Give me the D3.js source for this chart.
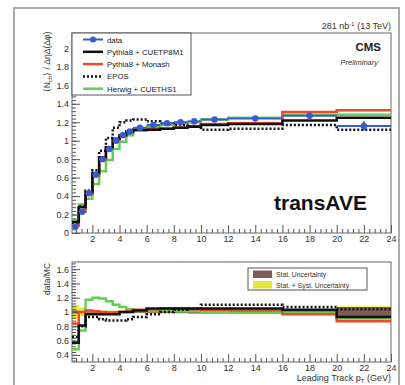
<!DOCTYPE html>
<html>
<head>
<meta charset="utf-8">
<script src="https://cdn.jsdelivr.net/npm/d3@7"></script>
<style>
  html, body { margin: 0; padding: 0; background: #fff; }
  svg { display: block; font-family: "Liberation Sans", Arial, Helvetica, sans-serif; }
</style>
</head>
<body>
<svg id="chart" width="405" height="385"></svg>
<script>
// Leading-track pT bin edges (GeV)
const binEdges = [0.5, 1, 1.5, 2, 2.5, 3, 3.5, 4, 4.5, 5, 6, 7, 8, 9, 10, 12, 16, 20, 24];

// Transverse-average charged-particle density
const dataValues   = [0.07, 0.23, 0.43, 0.63, 0.80, 0.91, 1.00, 1.06, 1.10, 1.14, 1.17, 1.19, 1.20, 1.21, 1.23, 1.24, 1.27, 1.16];
const dataErrors   = [0.005, 0.005, 0.005, 0.005, 0.005, 0.005, 0.005, 0.005, 0.005, 0.005, 0.006, 0.008, 0.01, 0.012, 0.012, 0.015, 0.02, 0.05];
const cuetp8m1     = [0.12, 0.28, 0.44, 0.65, 0.82, 0.93, 1.02, 1.06, 1.10, 1.12, 1.12, 1.13, 1.14, 1.15, 1.17, 1.18, 1.22, 1.25];
const monash       = [0.08, 0.23, 0.42, 0.62, 0.80, 0.92, 1.01, 1.06, 1.09, 1.11, 1.13, 1.13, 1.14, 1.16, 1.18, 1.19, 1.31, 1.33];
const epos         = [0.11, 0.29, 0.46, 0.68, 0.89, 1.03, 1.14, 1.20, 1.22, 1.23, 1.21, 1.19, 1.17, 1.15, 1.12, 1.13, 1.17, 1.12];
const herwig       = [0.14, 0.31, 0.37, 0.53, 0.67, 0.79, 0.91, 0.99, 1.06, 1.12, 1.15, 1.17, 1.19, 1.20, 1.23, 1.25, 1.28, 1.28];

// data/MC ratios
const ratioCuetp8m1 = [0.57, 0.81, 0.97, 0.97, 0.97, 0.97, 0.97, 1.00, 1.00, 1.02, 1.05, 1.05, 1.05, 1.05, 1.05, 1.05, 1.03, 0.93];
const ratioMonash   = [0.84, 1.00, 1.02, 1.01, 1.00, 0.99, 0.99, 1.00, 1.01, 1.03, 1.04, 1.05, 1.05, 1.04, 1.03, 1.04, 0.97, 0.87];
const ratioEpos     = [0.65, 0.80, 0.93, 0.93, 0.90, 0.88, 0.88, 0.88, 0.90, 0.93, 0.97, 1.00, 1.03, 1.05, 1.10, 1.10, 1.07, 1.04];
const ratioHerwig   = [0.48, 0.74, 1.17, 1.20, 1.19, 1.15, 1.10, 1.07, 1.04, 1.02, 1.02, 1.02, 1.01, 1.01, 1.00, 0.99, 0.99, 0.91];
const statUnc       = [0.02, 0.01, 0.01, 0.01, 0.01, 0.01, 0.01, 0.01, 0.01, 0.01, 0.01, 0.012, 0.015, 0.02, 0.02, 0.025, 0.03, 0.07];
const totalUnc      = [0.10, 0.06, 0.04, 0.025, 0.02, 0.02, 0.02, 0.02, 0.02, 0.02, 0.02, 0.02, 0.022, 0.025, 0.025, 0.03, 0.035, 0.08];

// Axis ticks
const xTicks      = [2, 4, 6, 8, 10, 12, 14, 16, 18, 20, 22, 24];
const yTicksTop   = [0, 0.2, 0.4, 0.6, 0.8, 1, 1.2, 1.4, 1.6, 1.8, 2];
const yTicksRatio = [0.4, 0.6, 0.8, 1, 1.2, 1.4, 1.6];

const legendTop = [
  { label: "data", color: "#3a5bd0", dash: null, marker: true },
  { label: "Pythia8 + CUETP8M1", color: "#111", dash: null },
  { label: "Pythia8 + Monash", color: "#ee4a2a", dash: null },
  { label: "EPOS", color: "#111", dash: "2,2" },
  { label: "Herwig + CUETHS1", color: "#66cc55", dash: null }
];

const svg = d3.select("#chart");
const fmt = d => String(+d.toFixed(1));

// outer canvas border
svg.append("rect").attr("x", 14).attr("y", 8).attr("width", 385).attr("height", 392)
  .attr("fill", "none").attr("stroke", "#aaa").attr("stroke-width", 2);

const x = d3.scaleLinear().domain([0.5, 24]).range([72, 391]);
const yTop = d3.scaleLinear().domain([0, 2.167]).range([233, 33]);
const yRat = d3.scaleLinear().domain([0.3, 1.7]).range([362, 262]);

function binPoints(values) {
  const pts = [];
  values.forEach((v, i) => { pts.push([binEdges[i], v]); pts.push([binEdges[i + 1], v]); });
  return pts;
}

function drawAxes(g, yScale, yTicks, minorStep, showXLabels) {
  const [y0, y1] = yScale.range();
  const ax = d3.axisBottom(x).tickValues(xTicks).tickSize(-8).tickPadding(3).tickFormat(showXLabels ? d => d : "");
  const axMinor = d3.axisBottom(x).tickValues(d3.range(0.8, 24.01, 0.4).filter(v => Math.abs(v / 2 - Math.round(v / 2)) > 0.01)).tickSize(-4).tickFormat("");
  const gx = g.append("g").attr("transform", `translate(0,${y0})`).call(ax);
  const gxm = g.append("g").attr("transform", `translate(0,${y0})`).call(axMinor);
  const ay = d3.axisLeft(yScale).tickValues(yTicks).tickSize(-8).tickPadding(3).tickFormat(fmt);
  const [d0, d1] = yScale.domain();
  const minors = d3.range(Math.ceil(d0 / minorStep) * minorStep, d1 + 1e-9, minorStep);
  const ayMinor = d3.axisLeft(yScale).tickValues(minors).tickSize(-4).tickFormat("");
  const gy = g.append("g").attr("transform", `translate(72,0)`).call(ay);
  const gym = g.append("g").attr("transform", `translate(72,0)`).call(ayMinor);
  [gx, gxm, gy, gym].forEach(s => {
    s.select(".domain").remove();
    s.selectAll("line").attr("stroke", "#555");
    s.selectAll("text").attr("font-size", 9).attr("fill", "#333").attr("font-family", "Liberation Sans, Arial, sans-serif");
  });
  g.append("rect").attr("x", 72).attr("y", y1).attr("width", 391 - 72).attr("height", y0 - y1)
    .attr("fill", "none").attr("stroke", "#666").attr("stroke-width", 1);
}

// ---------- upper pad ----------
const upper = svg.append("g");
const lineTop = d3.line().x(d => x(d[0])).y(d => yTop(d[1]));

drawAxes(upper, yTop, yTicksTop, 0.04, true);

const mcTop = [
  { v: herwig, color: "#66cc55", dash: null },
  { v: monash, color: "#ee4a2a", dash: null },
  { v: cuetp8m1, color: "#111", dash: null },
  { v: epos, color: "#111", dash: "2,2" }
];
mcTop.forEach(s => {
  upper.append("path").attr("d", lineTop(binPoints(s.v)))
    .attr("fill", "none").attr("stroke", s.color).attr("stroke-width", 2.5)
    .attr("stroke-dasharray", s.dash);
});

// data: markers with horizontal bin-width bars and vertical errors
const dataG = upper.append("g");
dataValues.forEach((v, i) => {
  const xc = (binEdges[i] + binEdges[i + 1]) / 2;
  dataG.append("line").attr("x1", x(binEdges[i])).attr("x2", x(binEdges[i + 1]))
    .attr("y1", yTop(v)).attr("y2", yTop(v)).attr("stroke", "#3a5bd0").attr("stroke-width", 2);
  dataG.append("line").attr("x1", x(xc)).attr("x2", x(xc))
    .attr("y1", yTop(v - dataErrors[i])).attr("y2", yTop(v + dataErrors[i])).attr("stroke", "#3a5bd0").attr("stroke-width", 2);
  dataG.append("circle").attr("cx", x(xc)).attr("cy", yTop(v)).attr("r", 3.2).attr("fill", "#3a5bd0");
});

// legend (upper)
const lg = upper.append("g");
lg.append("rect").attr("x", 72).attr("y", 33).attr("width", 119).attr("height", 62)
  .attr("fill", "#fff").attr("stroke", "#555").attr("stroke-width", 1);
legendTop.forEach((e, i) => {
  const yy = 39.5 + i * 12.3;
  lg.append("line").attr("x1", 83).attr("x2", 103).attr("y1", yy).attr("y2", yy)
    .attr("stroke", e.color).attr("stroke-width", e.marker ? 2 : 2.5).attr("stroke-dasharray", e.dash);
  if (e.marker) lg.append("circle").attr("cx", 93).attr("cy", yy).attr("r", 3).attr("fill", e.color);
  lg.append("text").attr("x", 107).attr("y", yy + 3).attr("font-size", 7.8).attr("fill", "#222").text(e.label);
});

// y title (upper)
const yt = upper.append("text").attr("transform", "translate(50,62) rotate(-90)")
  .attr("text-anchor", "middle").attr("font-size", 8.5).attr("fill", "#333");
yt.append("tspan").text("⟨N");
yt.append("tspan").attr("font-size", 6).attr("dy", 2).text("ch");
yt.append("tspan").attr("dy", -2).text("⟩ / ΔηΔ(Δφ)");

// labels
svg.append("text").attr("x", 391).attr("y", 29).attr("text-anchor", "end").attr("font-size", 9).attr("fill", "#333")
  .html('281 nb<tspan dy="-3" font-size="6">-1</tspan><tspan dy="3"> (13 TeV)</tspan>');
svg.append("text").attr("x", 381).attr("y", 51).attr("text-anchor", "end").attr("font-size", 11.5)
  .attr("font-weight", "bold").attr("fill", "#222").text("CMS");
svg.append("text").attr("x", 378).attr("y", 65).attr("text-anchor", "end").attr("font-size", 7.5)
  .attr("font-style", "italic").attr("fill", "#333").text("Preliminary");
svg.append("text").attr("x", 367).attr("y", 210).attr("text-anchor", "end").attr("font-size", 21)
  .attr("font-weight", "bold").attr("fill", "#111").text("transAVE");

// ---------- ratio pad ----------
const lower = svg.append("g");
const lineRat = d3.line().x(d => x(d[0])).y(d => yRat(d[1]));

// uncertainty bands around unity
binEdges.slice(0, -1).forEach((e0, i) => {
  const e1 = binEdges[i + 1];
  lower.append("rect").attr("x", x(e0)).attr("width", x(e1) - x(e0))
    .attr("y", yRat(1 + totalUnc[i])).attr("height", yRat(1 - totalUnc[i]) - yRat(1 + totalUnc[i]))
    .attr("fill", "#e6e63a");
  lower.append("rect").attr("x", x(e0)).attr("width", x(e1) - x(e0))
    .attr("y", yRat(1 + statUnc[i])).attr("height", yRat(1 - statUnc[i]) - yRat(1 + statUnc[i]))
    .attr("fill", "#7d5b56");
});

drawAxes(lower, yRat, yTicksRatio, 0.04, true);

const mcRat = [
  { v: ratioHerwig, color: "#66cc55", dash: null },
  { v: ratioMonash, color: "#ee4a2a", dash: null },
  { v: ratioCuetp8m1, color: "#111", dash: null },
  { v: ratioEpos, color: "#111", dash: "2,2" }
];
mcRat.forEach(s => {
  lower.append("path").attr("d", lineRat(binPoints(s.v)))
    .attr("fill", "none").attr("stroke", s.color).attr("stroke-width", 2.5)
    .attr("stroke-dasharray", s.dash);
});

// legend (ratio)
const lb = lower.append("g");
lb.append("rect").attr("x", 248).attr("y", 268).attr("width", 119).attr("height", 22)
  .attr("fill", "#fff").attr("stroke", "#555").attr("stroke-width", 1);
lb.append("rect").attr("x", 253).attr("y", 270.5).attr("width", 19).attr("height", 7.5).attr("fill", "#7d5b56");
lb.append("text").attr("x", 276).attr("y", 277).attr("font-size", 6.8).attr("fill", "#333").text("Stat. Uncertainty");
lb.append("rect").attr("x", 253).attr("y", 281).attr("width", 19).attr("height", 7.5).attr("fill", "#e6e63a");
lb.append("text").attr("x", 276).attr("y", 287.5).attr("font-size", 6.8).attr("fill", "#333").text("Stat. + Syst. Uncertainty");

// axis titles (ratio)
svg.append("text").attr("transform", "translate(50,279) rotate(-90)").attr("text-anchor", "middle")
  .attr("font-size", 8.5).attr("fill", "#333").text("data/MC");
svg.append("text").attr("x", 391).attr("y", 381).attr("text-anchor", "end").attr("font-size", 9).attr("fill", "#333")
  .html('Leading Track p<tspan dy="2" font-size="6">T</tspan><tspan dy="-2"> (GeV)</tspan>');
</script>
</body>
</html>
